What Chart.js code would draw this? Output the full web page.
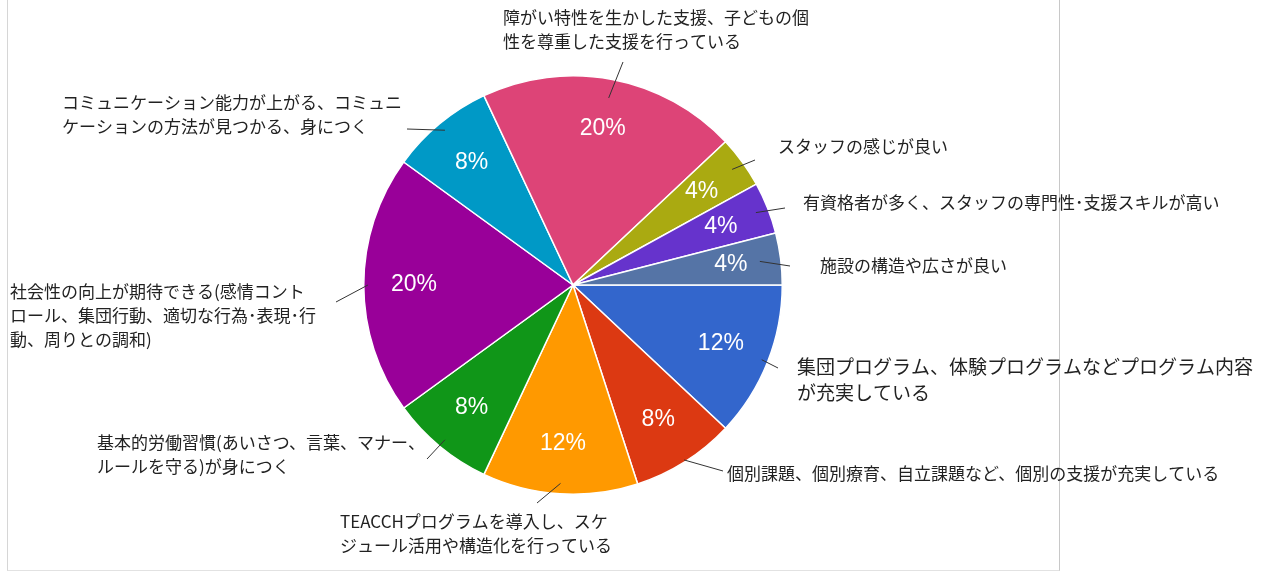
<!DOCTYPE html>
<html lang="ja">
<head>
<meta charset="utf-8">
<script src="https://cdn.jsdelivr.net/npm/chart.js@4"></script>
<style>
  html, body { margin: 0; padding: 0; background: #fff; }
  .wrap { position: relative; width: 1278px; height: 574px; overflow: hidden; }
  .frame {
    position: absolute; left: 7px; top: -2px; width: 1051px; height: 572px;
    border-left: 1px solid #d6d6d6; border-right: 1px solid #c8c8c8; border-bottom: 1px solid #e2e2e2;
  }
  canvas { position: absolute; left: 0; top: 0; }
</style>
</head>
<body>
<div class="wrap">
  <div class="frame"></div>
  <canvas id="pie" width="1278" height="574"></canvas>
</div>
<script>
// answers, clockwise from 3 o'clock
const categories = [
  ['集団プログラム、体験プログラムなどプログラム内容', 'が充実している'],
  ['個別課題、個別療育、自立課題など、個別の支援が充実している'],
  ['TEACCHプログラムを導入し、スケ', 'ジュール活用や構造化を行っている'],
  ['基本的労働習慣(あいさつ、言葉、マナー、', 'ルールを守る)が身につく'],
  ['社会性の向上が期待できる(感情コント', 'ロール、集団行動、適切な行為･表現･行', '動、周りとの調和)'],
  ['コミュニケーション能力が上がる、コミュニ', 'ケーションの方法が見つかる、身につく'],
  ['障がい特性を生かした支援、子どもの個', '性を尊重した支援を行っている'],
  ['スタッフの感じが良い'],
  ['有資格者が多く、スタッフの専門性･支援スキルが高い'],
  ['施設の構造や広さが良い']
];
const counts = [3, 2, 3, 2, 5, 2, 5, 1, 1, 1];

const colors = ['#3366cc', '#dc3912', '#ff9900', '#109618', '#990099',
                '#0099c6', '#dd4477', '#aaaa11', '#6633cc', '#5574a6'];

// where each outside label sits: text origin, leader line end (and start radius), font size
const labelPos = [
  { x: 797, y: 367, ex: 778, ey: 368, sr: 0.97, size: 19, lh: 26 },
  { x: 727, y: 474, ex: 723, ey: 471, sr: 0.99 },
  { x: 340, y: 522, ex: 537, ey: 503, sr: 0.95 },
  { x: 97,  y: 443, ex: 427, ey: 459, sr: 0.96 },
  { x: 10,  y: 292, ex: 336, ey: 302, sr: 0.98 },
  { x: 62,  y: 103, ex: 407, ey: 129, sr: 0.96 },
  { x: 503, y: 18,  ex: 623, ey: 62,  sr: 0.91 },
  { x: 778, y: 147, ex: 755, ey: 160, sr: 0.94 },
  { x: 803, y: 203, ex: 785, ey: 208, sr: 0.94 },
  { x: 820, y: 266, ex: 790, ey: 266, sr: 0.9 }
];

const sliceLabels = {
  id: 'sliceLabels',
  afterDraw(chart) {
    const ctx = chart.ctx;
    const total = counts.reduce((a, b) => a + b, 0);
    const arcs = chart.getDatasetMeta(0).data;
    ctx.save();
    arcs.forEach((arc, i) => {
      const p = arc.getProps(['x', 'y', 'startAngle', 'endAngle', 'outerRadius'], true);
      const mid = (p.startAngle + p.endAngle) / 2;
      const r = p.outerRadius;

      // percentage inside the slice
      const pct = Math.round(counts[i] / total * 100) + '%';
      ctx.fillStyle = '#fff';
      ctx.font = '23px "Liberation Sans", Arial, sans-serif';
      ctx.textAlign = 'center';
      ctx.textBaseline = 'middle';
      ctx.fillText(pct, p.x + Math.cos(mid) * r * 0.76, p.y + Math.sin(mid) * r * 0.76);

      // leader line
      const lp = labelPos[i];
      ctx.strokeStyle = '#333';
      ctx.lineWidth = 1;
      ctx.beginPath();
      ctx.moveTo(p.x + Math.cos(mid) * r * lp.sr, p.y + Math.sin(mid) * r * lp.sr);
      ctx.lineTo(lp.ex, lp.ey);
      ctx.stroke();

      // category text
      const size = lp.size || 17;
      const lh = lp.lh || 24;
      ctx.fillStyle = '#222';
      ctx.font = size + 'px "Noto Sans CJK JP", sans-serif';
      ctx.textAlign = 'left';
      categories[i].forEach((line, k) => ctx.fillText(line, lp.x, lp.y + k * lh));
    });
    ctx.restore();
  }
};

new Chart(document.getElementById('pie').getContext('2d'), {
  type: 'pie',
  data: {
    labels: categories.map(c => c.join('')),
    datasets: [{
      data: counts,
      backgroundColor: colors,
      borderColor: '#fff',
      borderWidth: 1.5
    }]
  },
  options: {
    responsive: false,
    animation: false,
    rotation: 90,
    layout: { padding: { left: 363, right: 495, top: 75, bottom: 79 } },
    plugins: {
      legend: { display: false },
      tooltip: { enabled: false }
    }
  },
  plugins: [sliceLabels]
});
</script>
</body>
</html>
